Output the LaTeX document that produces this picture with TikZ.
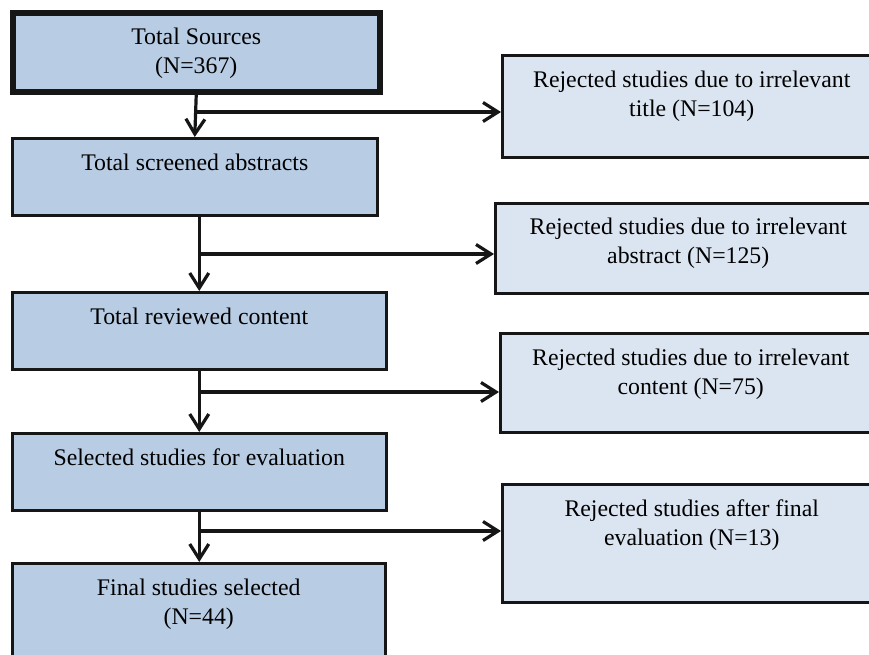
\documentclass[tikz,border=0pt]{standalone}
\usepackage{fontspec}
\setmainfont{Liberation Serif}
\usetikzlibrary{arrows.meta,positioning}
\definecolor{stagefill}{RGB}{184,204,228}
\definecolor{rejectfill}{RGB}{219,229,241}
\definecolor{ink}{RGB}{22,22,22}
\begin{document}
\begin{tikzpicture}[x=1pt,y=-1pt,
        stagebox/.style={draw=ink,line width=2.5pt,fill=stagefill,anchor=north west,inner sep=0pt},
        rejectbox/.style={draw=ink,line width=2.5pt,fill=rejectfill,anchor=north west,inner sep=0pt},
        boxtext/.style={inner sep=0pt,align=center,font=\fontsize{23.8}{28.5}\selectfont},
        flow/.style={draw=ink,line width=3.2pt,-{Straight Barb[length=15pt,width=19pt]}}]
        \useasboundingbox (0,0) rectangle (869,654);
        \clip (0,0) rectangle (869,654);
        % left column
        \node[stagebox,line width=5.5pt,minimum width=367pt,minimum height=79pt] (srcs) at (10,10) {};
        \node[stagebox,minimum width=365pt,minimum height=77pt] (scrn) at (11,137) {};
        \node[stagebox,minimum width=374pt,minimum height=77pt] (revw) at (11,291) {};
        \node[stagebox,minimum width=374pt,minimum height=77pt] (sel) at (11,432) {};
        \node[stagebox,minimum width=373pt,minimum height=120pt] (fin) at (11,562) {};
        % right column
        \node[rejectbox,minimum width=379pt,minimum height=102pt] (rejtitle) at (501,54) {};
        \node[rejectbox,minimum width=386pt,minimum height=90pt] (rejabs) at (494,202) {};
        \node[rejectbox,minimum width=381pt,minimum height=99pt] (rejcont) at (499,332) {};
        \node[rejectbox,minimum width=379pt,minimum height=118pt] (rejeval) at (501,483) {};
        % texts
        \begin{scope}[every node/.style={boxtext}]
            \node[below=18pt of srcs.north] (srcs-txt) {Total Sources\\(N=367)};
            \node[below=17pt of scrn.north] (scrn-txt) {Total screened abstracts};
            \node[below=17pt of revw.north] (revw-txt) {Total reviewed content};
            \node[below=17pt of sel.north] (sel-txt) {Selected studies for evaluation};
            \node[below=17pt of fin.north] (fin-txt) {Final studies selected\\(N=44)};
            \node[below=17pt of rejtitle.north] (rejtitle-txt) {Rejected studies due to irrelevant\\title (N=104)};
            \node[below=16pt of rejabs.north] (rejabs-txt) {Rejected studies due to irrelevant\\abstract (N=125)};
            \node[below=17pt of rejcont.north] (rejcont-txt) {Rejected studies due to irrelevant\\content (N=75)};
            \node[below=17pt of rejeval.north] (rejeval-txt) {Rejected studies after final\\evaluation (N=13)};
        \end{scope}
        % branch points
        \coordinate (br1) at (193.5,112);
        \coordinate (br2) at (198,254);
        \coordinate (br3) at (198,392);
        \coordinate (br4) at (198,531);
        \draw [flow] (srcs.south) -- (scrn.north);
        \draw [flow] (scrn.south -| revw.north) -- (revw.north);
        \draw [flow] (revw.south) -- (sel.north);
        \draw [flow] (sel.south) -- (fin.north -| sel.south);
        \draw [flow] (br1) -- (br1 -| rejtitle.west);
        \draw [flow] (br2) -- (br2 -| rejabs.west);
        \draw [flow] (br3) -- (br3 -| rejcont.west);
        \draw [flow] (br4) -- (br4 -| rejeval.west);
    \end{tikzpicture}
\end{document}
